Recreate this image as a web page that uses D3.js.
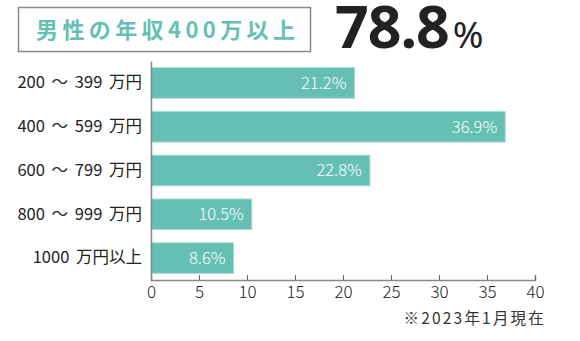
<!DOCTYPE html>
<html><head><meta charset="utf-8">
<script src="https://cdn.jsdelivr.net/npm/d3@7"></script>
<style>
html,body{margin:0;padding:0;background:#fff;}
svg{display:block;}
text{font-family:"Noto Sans CJK JP","Noto Sans",sans-serif;}
</style></head>
<body>
<svg id="chart" width="580" height="341"></svg>
<script>
const categories = ["200 ～ 399 万円","400 ～ 599 万円","600 ～ 799 万円","800 ～ 999 万円","1000 万円以上"];
const values = [21.2, 36.9, 22.8, 10.5, 8.6];
const xTicks = [0,5,10,15,20,25,30,35,40];
const titleText = "男性の年収400万以上";
const headline = "78.8";
const footnote = "※2023年1月現在";

const teal = "#65bfb3";
const svg = d3.select("#chart");

const x = d3.scaleLinear().domain([0,40]).range([151,535]);
const y = d3.scaleBand().domain(categories).range([61,280]).paddingInner(0.3).paddingOuter(0.15);

// title box
svg.append("rect").attr("x",18.5).attr("y",7.5).attr("width",292).attr("height",44)
  .attr("fill","#fff").attr("stroke","#8a8a8a").attr("stroke-width",1.5);
svg.append("text").attr("x",36).attr("y",38).attr("fill",teal)
  .attr("font-size",22).attr("font-weight",700).attr("letter-spacing",4.4)
  .text(titleText);

const h = svg.append("text").attr("x",335).attr("y",48).attr("fill","#222");
h.append("tspan").attr("font-family","'Noto Sans',sans-serif").attr("font-size",59).attr("font-weight",700).attr("letter-spacing",-1).text(headline);
h.append("tspan").attr("font-family","'Noto Sans',sans-serif").attr("font-size",37).attr("dx",4).text("%");

// bars
svg.append("g").selectAll("rect").data(values).join("rect")
  .attr("x",x(0)).attr("y",(d,i)=>y(categories[i]))
  .attr("width",d=>x(d)-x(0)).attr("height",y.bandwidth())
  .attr("fill",teal).attr("stroke","#a9dcd4").attr("stroke-width",1);

svg.append("g").selectAll("text").data(values).join("text")
  .attr("x",d=>x(d)-8).attr("y",(d,i)=>y(categories[i])+y.bandwidth()/2)
  .attr("dy","0.36em").attr("text-anchor","end").attr("fill","#fff")
  .attr("font-size",16.5).attr("font-family","'Noto Sans',sans-serif").attr("font-weight",300)
  .text(d=>d.toFixed(1)+"%");

// x axis
const xAxis = svg.append("g").attr("transform","translate(0,280)")
  .call(d3.axisBottom(x).tickValues(xTicks).tickSize(-5).tickPadding(5).tickFormat(d3.format("d")));
xAxis.select(".domain").attr("stroke","#888").attr("stroke-width",1.5);
xAxis.selectAll(".tick line").attr("stroke","#666");
xAxis.selectAll(".tick text").attr("font-size",17).attr("fill","#222")
  .attr("font-family","'Noto Sans',sans-serif").attr("font-weight",300).attr("dy","0.75em");

// y axis
const yAxis = svg.append("g").attr("transform","translate(151,0)")
  .call(d3.axisLeft(y).tickSize(0).tickPadding(9));
yAxis.select(".domain").attr("stroke","#888").attr("stroke-width",1.5);
yAxis.selectAll(".tick text").attr("font-size",16.5).attr("fill","#222").attr("font-weight",400)
  .attr("word-spacing",3);

svg.append("text").attr("x",546).attr("y",324).attr("text-anchor","end")
  .attr("font-size",15.5).attr("fill","#333").attr("letter-spacing",2.2).text(footnote);
</script>
</body></html>
